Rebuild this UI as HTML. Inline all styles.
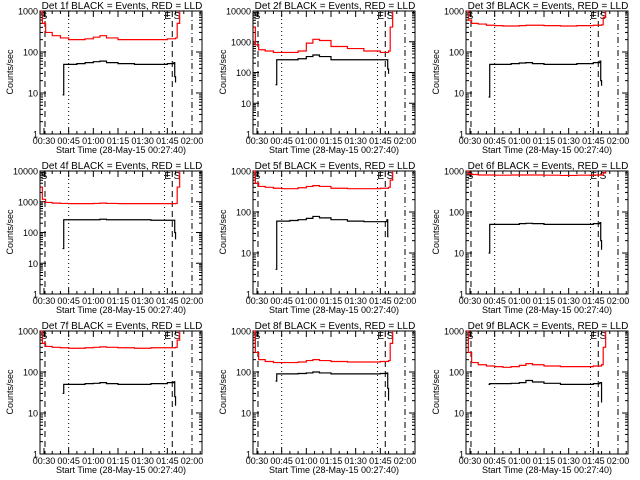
<!DOCTYPE html>
<html><head><meta charset="utf-8">
<style>
html,body{margin:0;padding:0;background:#fff;width:640px;height:480px;overflow:hidden}
svg{display:block}
text{font-family:"Liberation Sans",sans-serif;fill:#000}
</style></head>
<body>
<svg id="chart" width="640" height="480" viewBox="0 0 640 480"></svg>
<script>
const detLabels = ["1f","2f","3f","4f","5f","6f","7f","8f","9f"];
const yMaxDecades = [3,4,3,4,3,3,3,3,3];
const redTimes = [28,29,31,35,40,45,50,55,60,64,68,75,85,95,105,110,111,112.5];
const blackTimes = [41.3,42,45,50,55,60,64,68,75,85,95,105,109,109.5,110];
const red1 = [1000,500,300,250,220,200,200,210,230,250,220,200,200,200,210,220,500,1000];
const black1 = [9,50,50,52,55,58,60,55,52,50,50,52,55,25,18];
const red2 = [3000,800,550,500,450,450,450,500,900,1200,1100,700,600,500,450,500,3000,10000];
const black2 = [40,260,260,260,280,330,370,330,260,260,260,260,260,130,90];
const red3 = [1000,600,500,480,450,440,430,430,440,450,450,440,430,440,450,460,700,1000];
const black3 = [8,50,50,50,52,54,55,52,50,50,52,55,60,20,15];
const red4 = [3000,1200,950,900,880,870,870,870,880,900,880,870,870,870,870,880,3000,10000];
const black4 = [30,260,260,260,260,260,270,260,260,260,250,250,250,100,60];
const red5 = [1000,500,420,400,380,370,370,390,420,440,420,380,370,370,380,400,600,1000];
const black5 = [4,60,60,62,65,70,78,72,65,60,58,58,65,25,25];
const red6 = [1000,850,820,800,800,790,790,800,800,800,800,790,780,790,800,800,900,1000];
const black6 = [10,50,50,50,50,52,53,52,50,50,50,52,55,20,12];
const red7 = [1000,500,420,400,390,380,380,390,400,410,400,390,380,390,390,400,600,1000];
const black7 = [30,50,50,50,52,53,55,52,50,50,52,55,58,25,15];
const red8 = [1000,300,200,180,170,170,170,175,190,200,190,180,175,175,180,190,500,1000];
const black8 = [60,90,90,90,92,95,100,95,90,90,90,92,95,40,20];
const red9 = [1000,300,170,150,140,135,130,135,145,160,150,140,135,135,140,150,400,1000];
const black9 = [50,52,52,52,53,55,62,57,53,50,50,52,55,55,18];
const tickMinutes = [30,45,60,75,90,105,120];
const tickLabels = ["00:30","00:45","01:00","01:15","01:30","01:45","02:00"];
const markerTimes = [30.6,45,103.3,108,120];
const redSeries = [red1,red2,red3,red4,red5,red6,red7,red8,red9];
const blackSeries = [black1,black2,black3,black4,black5,black6,black7,black8,black9];

const NS="http://www.w3.org/2000/svg";
const svg=document.getElementById('chart');
function mk(tag,attrs,parent){const e=document.createElementNS(NS,tag);for(const k in attrs)e.setAttribute(k,attrs[k]);parent.appendChild(e);return e;}

for(let p=0;p<9;p++){
  const ox=(p%3)*213, oy=Math.floor(p/3)*160;
  const L=ox+40,R=ox+202,T=oy+11,B=oy+134;
  const dec=yMaxDecades[p];
  const xS=t=>L+(t-27.57)*(148/90);
  const yS=v=>B-(Math.log10(Math.max(v,1)))/(dec)*(B-T);
  const g=mk('g',{},svg);
  
  
  const title=mk('text',{x:ox+122,y:oy+9,'font-size':'10','text-anchor':'middle'},g);
  title.textContent='Det '+detLabels[p]+' BLACK = Events, RED = LLD';
  
  
  const frame=mk('rect',{x:L,y:T,width:R-L,height:B-T,fill:'none',stroke:'#000','stroke-width':'1'},g);
  
  
  // y ticks
  for(let d=0;d<=dec;d++){
    const y=yS(Math.pow(10,d));
    mk('line',{x1:L,x2:L+6,y1:y,y2:y,stroke:'#000'},g);
    mk('line',{x1:R,x2:R-6,y1:y,y2:y,stroke:'#000'},g);
    const tl=mk('text',{x:L-2,y:y+3.5,'font-size':'9','text-anchor':'end'},g);
    tl.textContent=String(Math.pow(10,d));
    
    
    if(d<dec)for(let m=2;m<10;m++){const ym=yS(m*Math.pow(10,d));
      mk('line',{x1:L,x2:L+3,y1:ym,y2:ym,stroke:'#000'},g);
      mk('line',{x1:R,x2:R-3,y1:ym,y2:ym,stroke:'#000'},g);}
  }
  const yl=mk('text',{x:0,y:0,'font-size':'9','text-anchor':'middle',transform:`translate(${ox+13},${oy+72}) rotate(-90)`},g);
  yl.textContent='Counts/sec';
  
  
  // x ticks
  for(let t=30;t<=125;t+=5){const x=xS(t);const major=(t%15===0);
    mk('line',{x1:x,x2:x,y1:B,y2:B-(major?6:3),stroke:'#000'},g);
    mk('line',{x1:x,x2:x,y1:T,y2:T+(major?6:3),stroke:'#000'},g);}
  tickMinutes.forEach((t,i)=>{const tl=mk('text',{x:xS(t),y:B+10,'font-size':'9','text-anchor':'middle'},g);
    tl.textContent=tickLabels[i];
    
    });
  const xl=mk('text',{x:ox+121,y:oy+153,'font-size':'9','text-anchor':'middle'},g);
  xl.textContent='Start Time (28-May-15 00:27:40)';
  
  
  // marker lines
  const styles=['6,4','1,3','1,3','6,4','6,3,1,3'];
  markerTimes.forEach((t,i)=>{const x=xS(t);
    const ln=mk('line',{x1:x,x2:x,y1:T,y2:B,stroke:'#000','stroke-dasharray':styles[i]},g);
    
    });
  [['S',L+4],['E',xS(104)+2],['S',xS(109)+3]].forEach(([c,x])=>{
    const m=mk('text',{x:x,y:T+8,'font-size':'10','text-anchor':'middle'},g);
    m.textContent=c;
    
    });
  // series as step lines
  function step(ts,vs){let d='';for(let i=0;i<ts.length;i++){const x=xS(ts[i]),y=yS(vs[i]);
    if(i===0)d+=`M${x},${y}`;else d+=`H${x}V${y}`;}return d;}
  const rp=mk('path',{d:step(redTimes,redSeries[p]),fill:'none',stroke:'#ff0000','stroke-width':'1.2'},g);
  
  
  const bp=mk('path',{d:step(blackTimes,blackSeries[p]),fill:'none',stroke:'#000','stroke-width':'1.2'},g);
  
  
}
</script>
</body></html>
